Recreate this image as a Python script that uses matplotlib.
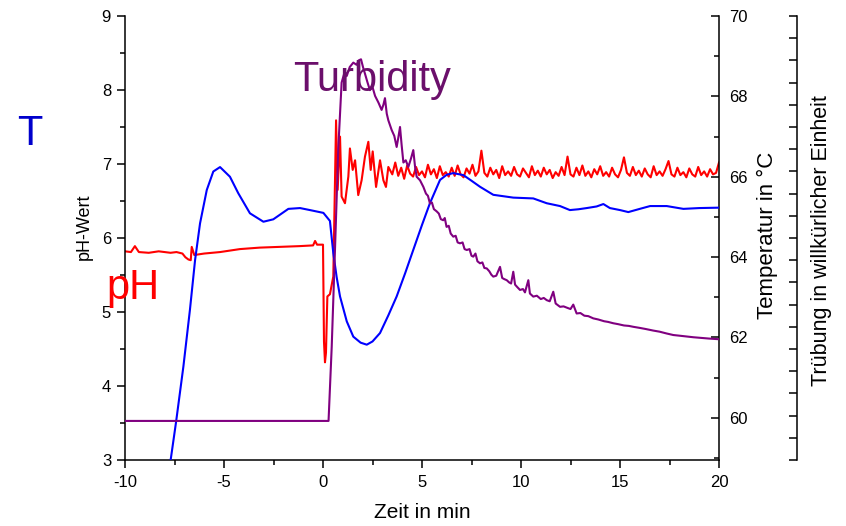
import numpy as np
import matplotlib
matplotlib.use("Agg")
import matplotlib.pyplot as plt
from matplotlib.ticker import MultipleLocator, NullFormatter

plt.rcParams['font.family'] = ['Liberation Sans', 'DejaVu Sans']

# ---------------- data ----------------
# pH (left axis): early part typed point by point
ph_t_early = [-10, -9.7, -9.5, -9.3, -8.8, -8.3, -7.7, -7.4, -7.1, -6.95, -6.8, -6.68,
              -6.63, -6.5, -6.0, -5.2, -4.2, -3.2, -2.2, -1.2, -0.5, -0.4, -0.3, 0.0,
              0.05, 0.1, 0.15, 0.22, 0.35, 0.52, 0.66, 0.74, 0.86, 0.94, 1.11, 1.28,
              1.36, 1.50, 1.62, 1.78, 1.95, 2.12, 2.29, 2.41, 2.51, 2.68, 2.88, 3.05,
              3.18, 3.30]
ph_v_early = [5.82, 5.81, 5.89, 5.81, 5.80, 5.82, 5.80, 5.81, 5.79, 5.74, 5.71, 5.70,
              5.88, 5.77, 5.79, 5.81, 5.85, 5.87, 5.88, 5.89, 5.90, 5.96, 5.91, 5.91,
              4.60, 4.32, 4.45, 5.21, 5.24, 5.48, 7.59, 6.65, 7.37, 6.56, 6.47, 6.83,
              7.21, 6.92, 7.05, 6.58, 6.78, 7.10, 7.30, 6.92, 7.17, 6.69, 7.05, 6.78,
              6.69, 6.96]
# pH late part sampled every 0.15 min from 3.5 to 20
ph_late_start, ph_late_step = 3.5, 0.15
ph_v_late = [6.86, 7.02, 6.84, 6.95, 6.80, 6.98, 6.87, 6.83, 6.96, 6.85,
             6.90, 6.82, 6.99, 6.86, 6.93, 6.81, 6.97, 6.85, 6.89, 6.83,
             6.95, 6.84, 6.98, 6.86, 6.82, 6.94, 6.87, 6.99, 6.84, 6.90,
             7.18, 6.88, 6.83, 6.95, 6.86, 6.92, 6.81, 6.97, 6.85, 6.90,
             6.84, 6.96, 6.86, 6.83, 6.94, 6.88, 6.82, 6.97, 6.85, 6.91,
             6.83, 6.95, 6.86, 6.92, 6.81, 6.89, 6.84, 6.96, 6.85, 7.10,
             6.86, 6.83, 6.95, 6.85, 6.98, 6.84, 6.90, 6.82, 6.93, 6.86,
             6.97, 6.84, 6.89, 6.83, 6.95, 6.86, 6.82, 6.92, 7.09, 6.88,
             6.84, 6.96, 6.85, 6.91, 6.83, 6.94, 6.86, 6.82, 6.97, 6.85,
             6.90, 6.84, 6.93, 7.04, 6.86, 6.83, 6.95, 6.85, 6.89, 6.82,
             6.94, 6.86, 6.83, 6.96, 6.85, 6.90, 6.83, 6.93, 6.86, 6.88, 7.02]

# Temperature (right axis, °C)
temp_t = [-7.9, -7.68, -7.42, -7.05, -6.72, -6.46, -6.21, -5.87, -5.54, -5.2, -4.70,
          -4.28, -3.69, -3.01, -2.51, -1.75, -1.16, -0.66, 0.02, 0.35, 0.52, 0.69, 0.86,
          1.2, 1.53, 1.9, 2.21, 2.5, 2.88, 3.3, 3.72, 4.15, 4.56, 5.0, 5.40, 5.91,
          6.25, 6.58, 7.09, 7.5, 7.93, 8.60, 9.61, 10.62, 11.30, 11.97, 12.47, 12.9,
          13.32, 13.82, 14.16, 14.49, 15.0, 15.42, 16.0, 16.52, 17.36, 18.20, 19.0, 20.0]
temp_v = [58.4, 59.0, 59.9, 61.28, 62.69, 63.93, 64.84, 65.67, 66.13, 66.24, 66.0,
          65.59, 65.09, 64.88, 64.94, 65.2, 65.22, 65.17, 65.1, 64.9, 64.1, 63.5, 63.02,
          62.4, 62.02, 61.87, 61.82, 61.9, 62.11, 62.55, 63.02, 63.6, 64.18, 64.8,
          65.34, 65.92, 66.05, 66.09, 66.04, 65.9, 65.75, 65.55, 65.48, 65.46, 65.34,
          65.27, 65.17, 65.19, 65.22, 65.26, 65.32, 65.22, 65.17, 65.12, 65.2, 65.27,
          65.27, 65.2, 65.22, 65.23]

# Turbidity (arbitrary units, third axis)
turb_t = [-10, 0.28, 0.44, 0.61, 0.77, 0.94, 1.1, 1.2, 1.35, 1.53, 1.7, 1.8, 1.92,
          2.02, 2.12, 2.25, 2.37, 2.5, 2.63, 2.8, 2.96, 3.05, 3.13, 3.22, 3.30, 3.47,
          3.6, 3.72, 3.8, 3.89, 3.97, 4.06, 4.18, 4.31, 4.45, 4.56, 4.65, 4.73, 4.9,
          5.07, 5.2, 5.3, 5.40, 5.5, 5.6, 5.74, 5.85, 5.95, 6.07, 6.15, 6.24, 6.35,
          6.45, 6.58, 6.7, 6.8, 6.92, 7.05, 7.15, 7.26, 7.4, 7.5, 7.59, 7.7, 7.8,
          7.93, 8.05, 8.15, 8.27, 8.4, 8.5, 8.60, 8.75, 8.94, 9.05, 9.15, 9.28, 9.4,
          9.5, 9.61, 9.7, 9.8, 9.95, 10.1, 10.2, 10.37, 10.45, 10.62, 10.8, 11.0,
          11.15, 11.30, 11.45, 11.63, 11.75, 11.97, 12.15, 12.35, 12.5, 12.64, 12.81,
          13.0, 13.2, 13.4, 13.65, 13.9, 14.2, 14.4, 14.66, 14.9, 15.2, 15.45, 15.67,
          16.0, 16.3, 16.68, 17.0, 17.35, 17.69, 18.0, 18.4, 18.70, 19.1, 19.5, 20.0]
turb_v = [1.76, 1.76, 5.1, 9.6, 14.0, 17.0, 17.5, 17.3, 17.7, 17.9, 17.8, 18.0, 18.05,
          17.7, 17.4, 17.0, 16.66, 16.8, 16.4, 16.1, 15.77, 16.0, 16.3, 15.6, 15.3, 14.86,
          14.6, 14.1, 14.5, 15.0, 14.2, 13.4, 13.5, 13.2, 13.6, 13.96, 13.2, 12.76, 12.6,
          12.3, 12.0, 11.9, 11.56, 11.6, 11.3, 11.2, 11.1, 10.85, 10.8, 10.9, 10.5, 10.55,
          10.2, 10.06, 10.1, 9.8, 9.76, 9.8, 9.5, 9.46, 9.5, 9.2, 9.16, 9.3, 8.95,
          8.86, 8.9, 8.65, 8.63, 8.5, 8.35, 8.26, 8.3, 8.7, 8.2, 8.15, 8.1, 8.0,
          7.95, 8.48, 7.9, 7.8, 7.66, 7.7, 7.55, 8.1, 7.5, 7.36, 7.4, 7.25,
          7.3, 7.2, 7.15, 7.58, 7.05, 6.9, 6.92, 6.85, 6.8, 7.0, 6.6,
          6.62, 6.5, 6.48, 6.38, 6.33, 6.25, 6.22, 6.16, 6.12, 6.06, 6.04, 6.0,
          5.95, 5.9, 5.83, 5.78, 5.7, 5.63, 5.6, 5.56, 5.53, 5.5, 5.47, 5.44]

x_ticks = [-10, -5, 0, 5, 10, 15, 20]

# ---------------- figure ----------------
W, H = 846, 526
fig = plt.figure(figsize=(W / 100, H / 100), dpi=100)
L, R, T, B = 125, 719, 16, 460
ax = fig.add_axes([L / W, 1 - B / H, (R - L) / W, (B - T) / H])

ph_t = list(ph_t_early) + list(np.round(ph_late_start + ph_late_step * np.arange(len(ph_v_late)), 3))
ph_v = list(ph_v_early) + list(ph_v_late)

ax.plot(ph_t, ph_v, color='#ff0000', lw=1.5, zorder=2)
ax.set_xlim(-10, 20)
ax.set_ylim(3, 9)
ax.set_xticks(x_ticks)
ax.xaxis.set_minor_locator(MultipleLocator(2.5))
ax.yaxis.set_major_locator(MultipleLocator(1))
ax.yaxis.set_minor_locator(MultipleLocator(0.5))
ax.set_xticklabels([str(v) for v in x_ticks])
ax.spines['top'].set_visible(False)
ax.spines['right'].set_visible(False)
for s in ['left', 'bottom']:
    ax.spines[s].set_linewidth(1.1)
ax.tick_params(axis='both', which='major', direction='out', length=6, width=1.1,
               labelsize=12, pad=4)
ax.tick_params(axis='both', which='minor', direction='out', length=3.5, width=1.1)
ax.tick_params(axis='x', which='major', pad=5)

# temperature axis
ax2 = ax.twinx()
ax2.plot(temp_t, temp_v, color='#0000ff', lw=1.5, zorder=3)
ax2.set_ylim(58.95, 70)
ax2.yaxis.set_minor_locator(MultipleLocator(1))
ax2.set_yticks([60, 62, 64, 66, 68, 70])
for s in ['top', 'left', 'bottom']:
    ax2.spines[s].set_visible(False)
ax2.spines['right'].set_linewidth(1.1)
ax2.tick_params(axis='y', which='major', direction='in', length=6, width=1.1,
                labelsize=12, pad=7)
ax2.tick_params(axis='y', which='minor', direction='in', length=3.5, width=1.1)

# turbidity axis
ax3 = ax.twinx()
ax3.plot(turb_t, turb_v, color='#800080', lw=1.5, zorder=4)
ax3.set_ylim(0, 20)
for s in ['top', 'left', 'bottom']:
    ax3.spines[s].set_visible(False)
ax3.spines['right'].set_position(('axes', (797 - L) / (R - L)))
ax3.spines['right'].set_linewidth(1.1)
ax3.yaxis.set_major_locator(MultipleLocator(1))
ax3.yaxis.set_major_formatter(NullFormatter())
ax3.tick_params(axis='y', which='major', direction='in', length=6, width=1.1)

# axis labels
fig.text(84 / W, 1 - 227 / H, 'pH-Wert', rotation=90, ha='center', va='center', fontsize=13)
fig.text(422 / W, 1 - 513 / H, 'Zeit in min', ha='center', va='center', fontsize=15)
fig.text(767 / W, 1 - 235 / H, 'Temperatur in °C', rotation=90, ha='center', va='center', fontsize=16)
fig.text(821 / W, 1 - 241 / H, 'Trübung in willkürlicher Einheit', rotation=90,
         ha='center', va='center', fontsize=15.5)

# big annotations
fig.text(30 / W, 1 - 134 / H, 'T', color='#0000cc', fontsize=30, ha='center', va='center')
fig.text(133 / W, 1 - 288 / H, 'pH', color='#ff0000', fontsize=30, ha='center', va='center')
fig.text(372 / W, 1 - 80 / H, 'Turbidity', color='#6b0f6b', fontsize=30, ha='center', va='center')

fig.savefig('out.png', dpi=100)
